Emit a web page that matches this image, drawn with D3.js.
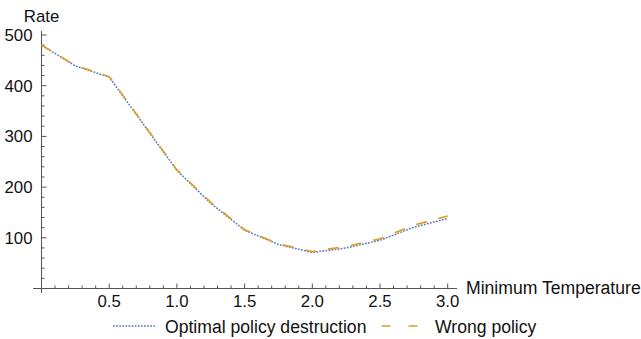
<!DOCTYPE html>
<html>
<head>
<meta charset="utf-8">
<script src="https://cdn.jsdelivr.net/npm/d3@7"></script>
<style>
  html, body { margin: 0; padding: 0; background: #fff; }
  svg { display: block; font-family: "Liberation Sans", Arial, Helvetica, sans-serif; }
</style>
</head>
<body>
<svg id="chart" width="641" height="339"></svg>
<script>
// ---- data ----
const temps = [0, 0.25, 0.5, 0.75, 1.0, 1.25, 1.5, 1.75, 2.0, 2.25, 2.5, 2.75, 3.0];
const optimalRates = [480, 439, 417, 325, 233, 168, 115, 87, 71, 80, 95, 121, 138];
const wrongRates   = [480, 440, 418, 326, 234, 170, 116, 88, 73, 83, 98, 125, 143];
const xTicks = [0.5, 1.0, 1.5, 2.0, 2.5, 3.0];
const yTicks = [100, 200, 300, 400, 500];
const seriesNames = ["Optimal policy destruction", "Wrong policy"];
const xLabel = "Minimum Temperature";
const yLabel = "Rate";

const svg = d3.select("#chart");
const x = d3.scaleLinear().domain([0, 3]).range([41.5, 447.7]);
const y = d3.scaleLinear().domain([0, 500]).range([288.5, 35]);

const axisColor = "#555";
const textColor = "#111";
const blue = "#5E81B5", orange = "#E19C24";
const fs = 16.8;
const lfs = 17.6;

// x axis
const gx = svg.append("g").attr("transform", `translate(0,${y(0)})`);
gx.append("line").attr("x1", 33).attr("x2", 457).attr("stroke", axisColor).attr("stroke-width", 1);
const xMinor = d3.range(1, 31).map(d => d / 10).filter(d => !xTicks.some(t => Math.abs(t - d) < 1e-9));
gx.selectAll(".xminor").data(xMinor).join("line")
  .attr("x1", d => x(d)).attr("x2", d => x(d)).attr("y1", 0).attr("y2", -3)
  .attr("stroke", axisColor);
gx.selectAll(".xmajor").data(xTicks).join("line")
  .attr("x1", d => x(d)).attr("x2", d => x(d)).attr("y1", 0).attr("y2", -5)
  .attr("stroke", axisColor);
gx.selectAll(".xlab").data(xTicks).join("text")
  .attr("x", d => x(d)).attr("y", 18.5).attr("text-anchor", "middle")
  .attr("font-size", fs).attr("fill", textColor)
  .text(d => d3.format(".1f")(d));
gx.append("text").attr("x", 466).attr("y", 5).attr("font-size", lfs).attr("fill", textColor).text(xLabel);

// y axis
const gy = svg.append("g").attr("transform", `translate(${x(0)},0)`);
gy.append("line").attr("y1", 31).attr("y2", 293).attr("stroke", axisColor);
const yMinor = d3.range(20, 501, 20).filter(d => !yTicks.includes(d));
gy.selectAll(".yminor").data(yMinor).join("line")
  .attr("y1", d => y(d)).attr("y2", d => y(d)).attr("x1", 0).attr("x2", 3)
  .attr("stroke", axisColor);
gy.selectAll(".ymajor").data(yTicks).join("line")
  .attr("y1", d => y(d)).attr("y2", d => y(d)).attr("x1", 0).attr("x2", 5)
  .attr("stroke", axisColor);
gy.selectAll(".ylab").data(yTicks).join("text")
  .attr("x", -9).attr("y", d => y(d)).attr("dy", "0.36em").attr("text-anchor", "end")
  .attr("font-size", fs).attr("fill", textColor)
  .text(d => d);
gy.append("text").attr("x", 0).attr("y", 22).attr("text-anchor", "middle")
  .attr("font-size", fs).attr("fill", textColor).text(yLabel);

// lines
const line = d3.line().x((d, i) => x(temps[i])).y(d => y(d));
svg.append("path").datum(optimalRates).attr("d", line)
  .attr("fill", "none").attr("stroke", blue).attr("stroke-width", 1.6)
  .attr("stroke-dasharray", "1.8,1.3");
svg.append("path").datum(wrongRates).attr("d", line)
  .attr("fill", "none").attr("stroke", orange).attr("stroke-width", 1.6)
  .attr("stroke-dasharray", "11,12");

// legend
const lg = svg.append("g");
lg.append("line").attr("x1", 113).attr("x2", 155).attr("y1", 326).attr("y2", 326)
  .attr("stroke", blue).attr("stroke-width", 1.6).attr("stroke-dasharray", "1.8,1.3");
lg.append("text").attr("x", 165).attr("y", 332.5).attr("font-size", lfs).attr("fill", textColor).text(seriesNames[0]);
lg.append("line").attr("x1", 381.5).attr("x2", 420).attr("y1", 326).attr("y2", 326)
  .attr("stroke", orange).attr("stroke-width", 1.6).attr("stroke-dasharray", "9,18");
lg.append("text").attr("x", 435).attr("y", 332.5).attr("font-size", lfs).attr("fill", textColor).text(seriesNames[1]);
</script>
</body>
</html>
